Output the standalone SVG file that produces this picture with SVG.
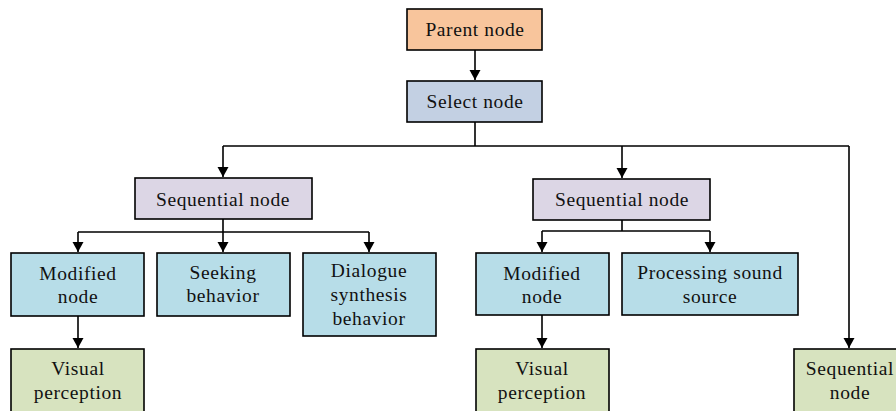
<svg xmlns="http://www.w3.org/2000/svg" width="896" height="411" viewBox="0 0 896 411">
<defs>
<marker id="ah" markerUnits="userSpaceOnUse" markerWidth="12" markerHeight="12" viewBox="0 0 12 12" refX="10" refY="6" orient="auto">
<path d="M0,0.5 L10,6 L0,11.5 Z" fill="#000"/>
</marker>
</defs>
<style>
rect{stroke:#000;stroke-width:1.6}
text{font-family:"Liberation Serif","Times New Roman",serif;font-size:19.5px;letter-spacing:0.6px;fill:#111;text-anchor:middle}
.o{fill:#F8C59C}.b{fill:#C3D0E3}.p{fill:#DCD6E5}.c{fill:#B7DDE8}.g{fill:#D7E3BF}
#connectors path{fill:none;stroke:#000;stroke-width:1.6}
</style>
<rect width="896" height="411" fill="#fff" style="stroke:none"/>
<g id="connectors">
<path d="M475,50 V80" marker-end="url(#ah)"/>
<path d="M475,122 V146 M223,146 H849"/>
<path d="M223,146 V177" marker-end="url(#ah)"/>
<path d="M622,146 V178" marker-end="url(#ah)"/>
<path d="M849,146 V348" marker-end="url(#ah)"/>
<path d="M223,219 V232 M78,232 H369"/>
<path d="M78,232 V252" marker-end="url(#ah)"/>
<path d="M223,232 V252" marker-end="url(#ah)"/>
<path d="M369,232 V252" marker-end="url(#ah)"/>
<path d="M78,316 V348" marker-end="url(#ah)"/>
<path d="M622,220 V231 M542,231 H710"/>
<path d="M542,231 V252" marker-end="url(#ah)"/>
<path d="M710,231 V252" marker-end="url(#ah)"/>
<path d="M542,315 V348" marker-end="url(#ah)"/>
</g>
<g id="parent"><rect class="o" x="407" y="9" width="135" height="41"/><text x="475" y="36">Parent node</text></g>
<g id="select"><rect class="b" x="407" y="81" width="135" height="41"/><text x="475" y="108">Select node</text></g>
<g id="seq1"><rect class="p" x="135" y="178" width="177" height="41"/><text x="223" y="206">Sequential node</text></g>
<g id="seq2"><rect class="p" x="533" y="179" width="177" height="41"/><text x="622" y="206">Sequential node</text></g>
<g id="mod1"><rect class="c" x="11" y="253" width="133" height="63"/><text x="78" y="280">Modified</text><text x="78" y="303">node</text></g>
<g id="seek"><rect class="c" x="157" y="253" width="133" height="63"/><text x="223" y="279">Seeking</text><text x="223" y="302">behavior</text></g>
<g id="dialogue"><rect class="c" x="303" y="253" width="133" height="83"/><text x="369" y="277">Dialogue</text><text x="369" y="301">synthesis</text><text x="369" y="325">behavior</text></g>
<g id="vis1"><rect class="g" x="11" y="349" width="133" height="70"/><text x="78" y="375">Visual</text><text x="78" y="399">perception</text></g>
<g id="mod2"><rect class="c" x="476" y="253" width="133" height="62"/><text x="542" y="280">Modified</text><text x="542" y="303">node</text></g>
<g id="proc"><rect class="c" x="622" y="253" width="176" height="62"/><text x="710" y="279">Processing sound</text><text x="710" y="303">source</text></g>
<g id="vis2"><rect class="g" x="476" y="349" width="133" height="70"/><text x="542" y="375">Visual</text><text x="542" y="399">perception</text></g>
<g id="seq3"><rect class="g" x="794" y="349" width="112" height="70"/><text x="850" y="375">Sequential</text><text x="850" y="399">node</text></g>
</svg>
